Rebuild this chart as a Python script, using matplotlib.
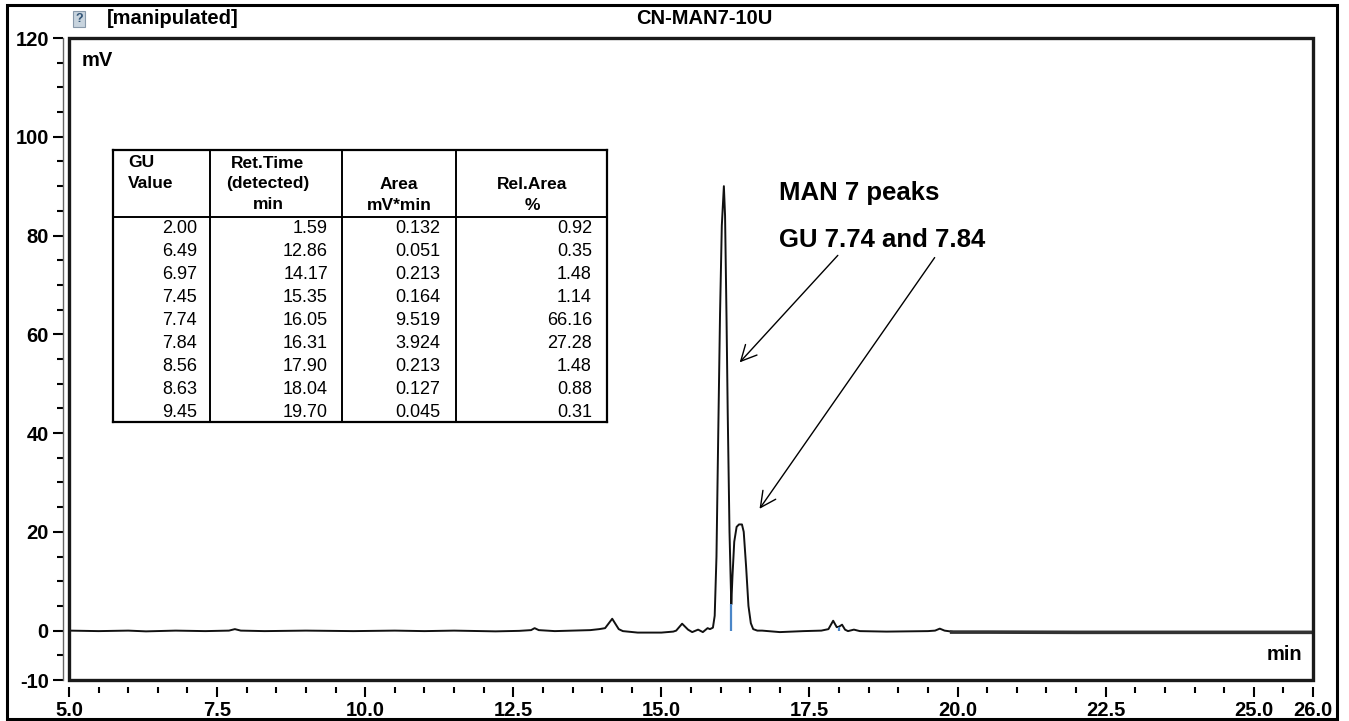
import matplotlib.pyplot as plt
from matplotlib.patches import Rectangle
from matplotlib.ticker import FixedLocator, MultipleLocator

plt.rcParams['font.family'] = ['Liberation Sans', 'DejaVu Sans']
plt.rcParams['axes.unicode_minus'] = False

# chromatogram trace (min, mV)
time_min = [5.0, 5.5, 6.0, 6.3, 6.8, 7.3, 7.7, 7.8, 7.9, 8.3, 9.0, 9.8, 10.5, 11.0, 11.5,
            12.2, 12.6, 12.8, 12.86, 12.93, 13.2, 13.5, 13.8, 13.95, 14.05, 14.17, 14.28,
            14.35, 14.6, 15.0, 15.2, 15.25, 15.35, 15.45, 15.52, 15.62, 15.7, 15.78, 15.82,
            15.87, 15.9, 15.93, 15.96, 15.99, 16.02, 16.055, 16.075, 16.1, 16.12, 16.15,
            16.18, 16.2, 16.23, 16.27, 16.31, 16.36, 16.39, 16.43, 16.47, 16.51, 16.55,
            16.62, 16.7, 17.0, 17.4, 17.7, 17.82, 17.9, 17.96, 18.0, 18.05, 18.1, 18.15,
            18.25, 18.35, 18.8, 19.5, 19.62, 19.7, 19.78, 19.9]
signal_mv = [0.0, -0.1, 0.0, -0.15, 0.0, -0.1, 0.0, 0.3, 0.0, -0.1, 0.0, -0.1, 0.0, -0.1, 0.0,
             -0.15, -0.05, 0.1, 0.5, 0.1, -0.1, 0.0, 0.1, 0.3, 0.5, 2.4, 0.3,
             -0.1, -0.4, -0.4, -0.2, 0.0, 1.4, 0.2, -0.3, 0.2, -0.3, 0.5, 0.3,
             0.6, 3.0, 15.0, 40.0, 64.0, 82.0, 90.0, 84.0, 63.0, 44.0, 20.0,
             5.3, 11.0, 18.0, 21.0, 21.5, 21.5, 20.0, 13.0, 5.0, 1.5, 0.3,
             0.0, 0.0, -0.3, -0.1, 0.0, 0.3, 2.0, 0.7, 0.8, 1.2, 0.2, -0.1,
             0.2, -0.1, -0.2, -0.1, 0.0, 0.4, 0.0, -0.2]
tail_time = [19.9, 20.5, 22.0, 24.0, 26.0]
tail_mv = [-0.3, -0.3, -0.35, -0.35, -0.35]

# peak boundary marks (blue)
split_time = [16.18, 17.99]
split_top = [5.3, 0.8]

# peak table
gu_value = ['2.00', '6.49', '6.97', '7.45', '7.74', '7.84', '8.56', '8.63', '9.45']
ret_time = ['1.59', '12.86', '14.17', '15.35', '16.05', '16.31', '17.90', '18.04', '19.70']
area = ['0.132', '0.051', '0.213', '0.164', '9.519', '3.924', '0.213', '0.127', '0.045']
rel_area = ['0.92', '0.35', '1.48', '1.14', '66.16', '27.28', '1.48', '0.88', '0.31']

W, H = 1349, 721
fig = plt.figure(figsize=(W / 100, H / 100), dpi=100)

# outer frame
fig.patches.append(Rectangle((7 / W, 2 / H), 1330 / W, 714 / H, transform=fig.transFigure,
                             fill=False, lw=2.2, ec='black'))

ax = fig.add_axes([69 / W, 1 - 680 / H, (1313 - 69) / W, (680 - 38) / H])
ax.plot(time_min, signal_mv, color='#111111', lw=1.4)
ax.plot(tail_time, tail_mv, color='#333333', lw=2.6)
ax.vlines(split_time, 0, split_top, color='#4a86c8', lw=1.6)
ax.set_xlim(5, 26)
ax.set_ylim(-10, 120)

# box around plot
ax.add_patch(Rectangle((0, 0), 1, 1, transform=ax.transAxes, fill=False, lw=2.4,
                       ec='#1a1a1a', clip_on=False, zorder=5))
for s in ['top', 'right']:
    ax.spines[s].set_visible(False)
ax.spines['left'].set_position(('outward', 4.5))
ax.spines['left'].set_color('#666666')
ax.spines['left'].set_linewidth(1.0)
ax.spines['bottom'].set_position(('outward', 5))
ax.spines['bottom'].set_visible(False)

ax.yaxis.set_major_locator(FixedLocator([-10, 0, 20, 40, 60, 80, 100, 120]))
ax.yaxis.set_minor_locator(MultipleLocator(5))
ax.xaxis.set_major_locator(FixedLocator([5.0, 7.5, 10.0, 12.5, 15.0, 17.5, 20.0, 22.5, 25.0, 26.0]))
ax.xaxis.set_minor_locator(MultipleLocator(0.5))
ax.set_xticklabels(['5.0', '7.5', '10.0', '12.5', '15.0', '17.5', '20.0', '22.5', '25.0', '26.0'])
ax.tick_params(which='major', length=7, width=1.5, color='black', labelsize=14.5, pad=3)
ax.tick_params(which='minor', length=4.5, width=1.5, color='black')
for lab in ax.get_xticklabels() + ax.get_yticklabels():
    lab.set_fontweight('bold')

fig.text(82 / W, 1 - 60 / H, 'mV', fontsize=14.5, fontweight='bold', va='center')
fig.text(1302 / W, 1 - 655 / H, 'min', fontsize=14.5, fontweight='bold', ha='right',
         va='center')

# header
fig.text(107 / W, 1 - 18 / H, '[manipulated]', fontsize=14.5, fontweight='bold', va='center')
fig.text(704 / W, 1 - 18 / H, 'CN-MAN7-10U', fontsize=14.5, fontweight='bold', va='center',
         ha='center')
fig.text(79 / W, 1 - 19 / H, '?', fontsize=9, fontweight='bold', va='center', ha='center',
         color='#335577',
         bbox=dict(boxstyle='square,pad=0.15', fc='#c8d4de', ec='#8899aa', lw=0.8))

# annotation
ax.text(16.99, 88.6, 'MAN 7 peaks', fontsize=18.5, fontweight='bold', va='center')
ax.text(16.99, 79.1, 'GU 7.74 and 7.84', fontsize=18.5, fontweight='bold', va='center')
ax.annotate('', xy=(16.29, 53.9), xytext=(18.01, 76.4),
            arrowprops=dict(arrowstyle='->', lw=1.0, color='black', mutation_scale=28))
ax.annotate('', xy=(16.63, 24.2), xytext=(19.64, 76.0),
            arrowprops=dict(arrowstyle='->', lw=1.0, color='black', mutation_scale=28))

# peak table drawn in its own axes, pixel-like coordinates
tx0, tx1, ty0, ty1 = 113, 607, 150, 422
tab = fig.add_axes([tx0 / W, 1 - ty1 / H, (tx1 - tx0) / W, (ty1 - ty0) / H])
tab.set_xlim(tx0, tx1)
tab.set_ylim(ty1, ty0)
tab.set_xticks([])
tab.set_yticks([])
tab.patch.set_facecolor('white')
for s in tab.spines.values():
    s.set_linewidth(1.6)
for xc in [210, 342, 456]:
    tab.plot([xc, xc], [ty0, ty1], color='black', lw=1.4)
tab.plot([tx0, tx1], [217, 217], color='black', lw=1.4)

hdr = dict(fontsize=12.5, fontweight='bold', va='center', linespacing=1.45)
tab.text(128, 173, 'GU\nValue', ha='left', **hdr)
tab.text(268, 184, 'Ret.Time\n(detected)\nmin', ha='center', **hdr)
tab.text(399, 195, 'Area\nmV*min', ha='center', **hdr)
tab.text(532, 195, 'Rel.Area\n%', ha='center', **hdr)

for i in range(len(gu_value)):
    y = 229 + i * 22.9
    tab.text(197, y, gu_value[i], ha='right', va='center', fontsize=13)
    tab.text(328, y, ret_time[i], ha='right', va='center', fontsize=13)
    tab.text(440, y, area[i], ha='right', va='center', fontsize=13)
    tab.text(592, y, rel_area[i], ha='right', va='center', fontsize=13)

fig.savefig('out.png', dpi=100)
